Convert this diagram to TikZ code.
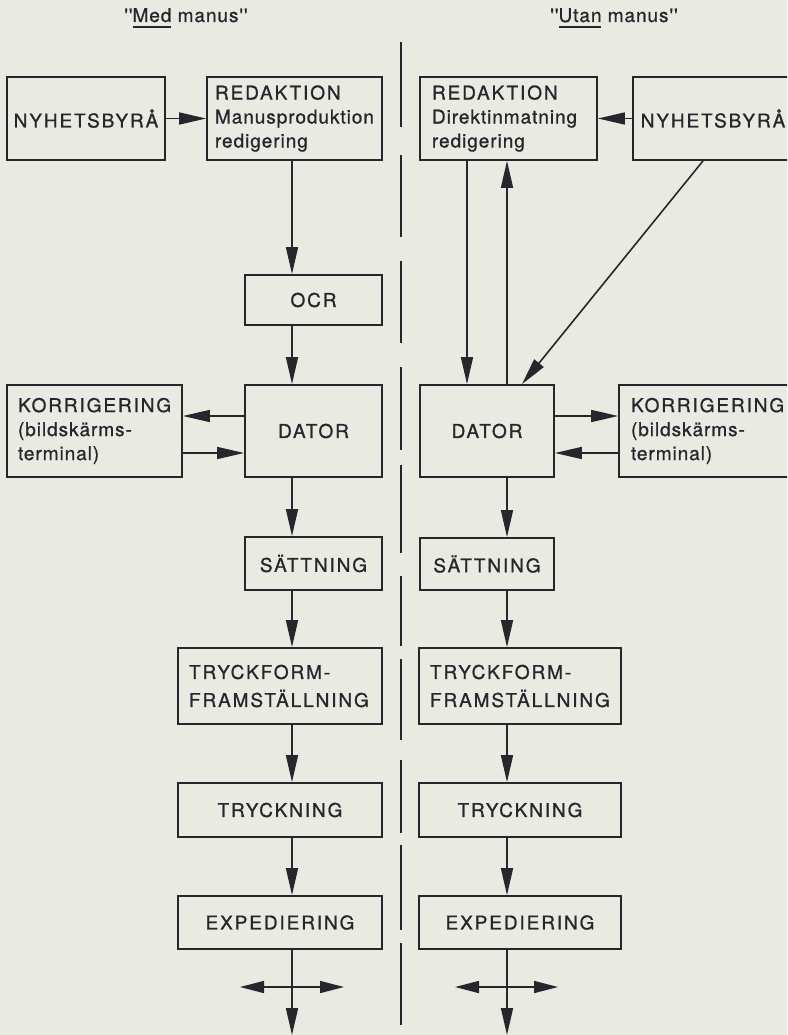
\documentclass[tikz,border=0pt]{standalone}
\usepackage{fontspec}
\setmainfont{TeX Gyre Heros}
\newfontfamily\capf[LetterSpace=10,FakeBold=0.9]{TeX Gyre Heros}
\newfontfamily\lowf[LetterSpace=5,FakeBold=0.9]{TeX Gyre Heros}
\usetikzlibrary{arrows.meta}
\definecolor{paper}{RGB}{233,235,227}
\definecolor{ink}{RGB}{38,38,44}
\newcommand\myul[1]{\setbox0\hbox{#1}\rlap{\rule[-6pt]{\wd0}{1.8pt}}\box0\relax}
\begin{document}
\begin{tikzpicture}[x=1pt,y=-1pt,
  box/.style={draw=ink,line width=1.8pt,rectangle,text=ink,inner sep=0pt,
    font=\capf\fontsize{19}{24}\selectfont,align=center},
  lbox/.style={box,align=left},
  arr/.style={draw=ink,line width=1.6pt,-{Triangle[length=27pt,width=12pt]}},
  darr/.style={draw=ink,line width=1.6pt,{Triangle[length=24pt,width=12pt]}-{Triangle[length=24pt,width=12pt]}},
  sep/.style={draw=ink,line width=1.8pt},
  title/.style={text=ink,inner sep=0pt,anchor=base,font=\lowf\fontsize{19}{24}\selectfont}]
\fill[paper] (0,0) rectangle (787,1035);
\useasboundingbox (0,0) rectangle (787,1035);
\clip (0,0) rectangle (787,1035);

% titles
\node[title] (tMed) at (186,22) {''\myul{Med} manus''};
\node[title] (tUtan) at (614,22) {''\myul{Utan} manus''};

% centre divider
\foreach \a/\b in {42/127,155/237,261/343,367/450,465/553,576/646,659/740,760/833,845/930,943/1025}
  \draw[sep] (400.7,\a) -- (400.7,\b);

% left column ("Med manus")
\node[box,minimum width=158pt,minimum height=83pt] (nyhL) at (86,118.5) {NYHETSBYRÅ};
\node[lbox,minimum height=83pt,text width=159pt,inner xsep=8pt] (redL) at (294.5,118.5)
  {REDAKTION\\{\lowf Manusproduktion}\\{\lowf redigering}};
\node[box,minimum width=137pt,minimum height=50pt] (ocr) at (313.5,300) {OCR};
\node[box,minimum width=137pt,minimum height=92pt] (datL) at (313.5,431) {DATOR};
\node[lbox,minimum height=92pt,text width=153pt,inner xsep=11pt] (korL) at (94.5,431)
  {KORRIGERING\\{\lowf (bildskärms-}\\{\lowf terminal)}};
\node[box,minimum width=137pt,minimum height=53pt] (satL) at (313.5,563.5) {SÄTTNING};
\node[lbox,minimum height=76pt,text width=182pt,inner xsep=11pt] (tryfL) at (280,686)
  {TRYCKFORM-\\[4pt]FRAMSTÄLLNING};
\node[box,minimum width=204pt,minimum height=54pt] (trykL) at (280,810) {TRYCKNING};
\node[box,minimum width=204pt,minimum height=53pt] (expL) at (280,922.5) {EXPEDIERING};

% right column ("Utan manus")
\node[lbox,minimum height=83pt,text width=153pt,inner xsep=12pt] (redR) at (508.5,118.5)
  {REDAKTION\\{\lowf Direktinmatning}\\{\lowf redigering}};
\node[box,minimum width=160pt,minimum height=83pt] (nyhR) at (713,118.5) {NYHETSBYRÅ};
\node[box,minimum width=134pt,minimum height=92pt] (datR) at (487,431) {DATOR};
\node[lbox,minimum height=92pt,text width=156pt,inner xsep=12pt] (korR) at (709,431)
  {KORRIGERING\\{\lowf (bildskärms-}\\{\lowf terminal)}};
\node[box,minimum width=134pt,minimum height=52pt] (satR) at (487,564) {SÄTTNING};
\node[lbox,minimum height=76pt,text width=180pt,inner xsep=11pt] (tryfR) at (520,686)
  {TRYCKFORM-\\[4pt]FRAMSTÄLLNING};
\node[box,minimum width=202pt,minimum height=54pt] (trykR) at (520,810) {TRYCKNING};
\node[box,minimum width=202pt,minimum height=53pt] (expR) at (520,922.5) {EXPEDIERING};

% helper coordinates
\coordinate (cL) at (292,0);
\coordinate (cR1) at (467,0);
\coordinate (cR2) at (507,0);
\coordinate (hA) at (0,416);
\coordinate (hB) at (0,453);
\coordinate (dA) at (703,0);
\coordinate (dB) at (522,0);
\coordinate (endL) at (292,1035);
\coordinate (endR) at (507,1035);
\coordinate (dl1) at (240,987);
\coordinate (dl2) at (344,987);
\coordinate (dr1) at (455,987);
\coordinate (dr2) at (558,987);

% left connectors
\draw[arr] (nyhL.east) -- (redL.west);
\draw[arr] (redL.south -| cL) -- (ocr.north -| cL);
\draw[arr] (ocr.south -| cL) -- (datL.north -| cL);
\draw[arr] (datL.west |- hA) -- (korL.east |- hA);
\draw[arr] (korL.east |- hB) -- (datL.west |- hB);
\draw[arr] (datL.south -| cL) -- (satL.north -| cL);
\draw[arr] (satL.south -| cL) -- (tryfL.north -| cL);
\draw[arr] (tryfL.south -| cL) -- (trykL.north -| cL);
\draw[arr] (trykL.south -| cL) -- (expL.north -| cL);
\draw[arr] (expL.south -| cL) -- (endL);
\draw[darr] (dl1) -- (dl2);

% right connectors
\draw[arr] (nyhR.west) -- (redR.east);
\draw[arr] (redR.south -| cR1) -- (datR.north -| cR1);
\draw[arr] (datR.north -| cR2) -- (redR.south -| cR2);
\draw[arr] (nyhR.south -| dA) -- (datR.north -| dB);
\draw[arr] (datR.east |- hA) -- (korR.west |- hA);
\draw[arr] (korR.west |- hB) -- (datR.east |- hB);
\draw[arr] (datR.south -| cR2) -- (satR.north -| cR2);
\draw[arr] (satR.south -| cR2) -- (tryfR.north -| cR2);
\draw[arr] (tryfR.south -| cR2) -- (trykR.north -| cR2);
\draw[arr] (trykR.south -| cR2) -- (expR.north -| cR2);
\draw[arr] (expR.south -| cR2) -- (endR);
\draw[darr] (dr1) -- (dr2);
\end{tikzpicture}
\end{document}
